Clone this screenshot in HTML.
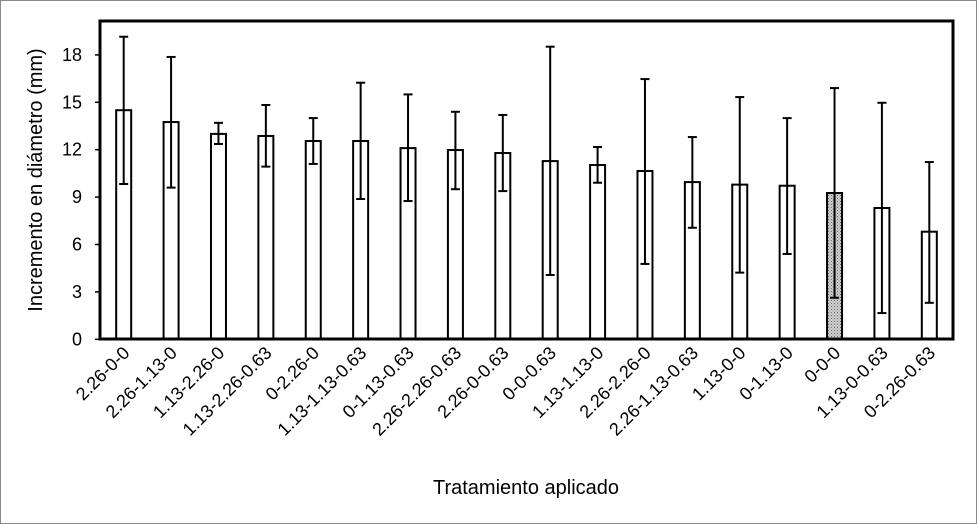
<!DOCTYPE html>
<html><head><meta charset="utf-8"><style>
html,body{margin:0;padding:0;background:#fff}
svg{display:block;font-family:"Liberation Sans",Arial,sans-serif}
</style></head><body>
<svg id="chart" width="977" height="524" viewBox="0 0 977 524">
<defs><pattern id="dots" width="3" height="3" patternUnits="userSpaceOnUse"><rect width="3" height="3" fill="#d0d0d0"/><rect width="1" height="1" fill="#666"/><rect x="1.5" y="1.5" width="1" height="1" fill="#888"/></pattern></defs>
<rect x="0.5" y="0.5" width="976" height="523" fill="#fff" stroke="#888"/>
<g id="bars"></g>
<g id="yaxis"></g>
<g id="xaxis"></g>
<rect x="100" y="21" width="853" height="318" fill="none" stroke="#000" stroke-width="3"/>
<text x="42" y="180" font-size="20" text-anchor="middle" transform="rotate(-90 42 180)">Incremento en diámetro (mm)</text>
<text x="526" y="494" font-size="20" text-anchor="middle">Tratamiento aplicado</text>
</svg>
<script>
const categories=["2.26-0-0","2.26-1.13-0","1.13-2.26-0","1.13-2.26-0.63","0-2.26-0","1.13-1.13-0.63","0-1.13-0.63","2.26-2.26-0.63","2.26-0-0.63","0-0-0.63","1.13-1.13-0","2.26-2.26-0","2.26-1.13-0.63","1.13-0-0","0-1.13-0","0-0-0","1.13-0-0.63","0-2.26-0.63"];
const means=[14.5,13.75,13.0,12.87,12.55,12.55,12.1,11.98,11.79,11.28,11.03,10.65,9.95,9.79,9.72,9.26,8.31,6.81];
const errHigh=[19.15,17.87,13.7,14.83,14.0,16.24,15.5,14.4,14.2,18.52,12.17,16.47,12.8,15.33,14.0,15.9,14.97,11.22];
const errLow=[9.83,9.6,12.36,10.93,11.1,8.88,8.75,9.5,9.38,4.07,9.91,4.77,7.06,4.22,5.4,2.63,1.66,2.31];
const yTicks=[0,3,6,9,12,15,18];
const NS="http://www.w3.org/2000/svg";
const X0=100,X1=953,Y0=339.3,PX=15.8;
const band=(X1-X0)/categories.length;
const xC=i=>X0+(i+0.5)*band;
const y=v=>Y0-v*PX;
function mk(tag,attrs,parent){const e=document.createElementNS(NS,tag);for(const k in attrs)e.setAttribute(k,attrs[k]);parent.appendChild(e);return e;}
const gb=document.getElementById('bars'),gy=document.getElementById('yaxis'),gx=document.getElementById('xaxis');
categories.forEach((c,i)=>{
  const cx=xC(i),w=15;
  const r=mk('rect',{x:cx-w/2,y:y(means[i]),width:w,height:Y0-y(means[i]),fill:c==="0-0-0"?"url(#dots)":"#fff",stroke:"#000","stroke-width":2},gb);
  
  
  const g=mk('g',{stroke:"#000","stroke-width":2},gb);
  
  
  mk('line',{x1:cx,x2:cx,y1:y(errHigh[i]),y2:y(errLow[i])},g);
  mk('line',{x1:cx-4.5,x2:cx+4.5,y1:y(errHigh[i]),y2:y(errHigh[i])},g);
  mk('line',{x1:cx-4.5,x2:cx+4.5,y1:y(errLow[i]),y2:y(errLow[i])},g);
  const t=mk('text',{x:cx+7,y:354,"font-size":18,"text-anchor":"end",transform:`rotate(-45 ${cx+7} 354)`},gx);
  t.textContent=c;
  
  
});
yTicks.forEach(v=>{
  const l=mk('line',{x1:95,x2:100,y1:y(v),y2:y(v),stroke:"#000","stroke-width":1.5},gy);
  
  
  const t=mk('text',{x:82,y:y(v)+6,"font-size":18,"text-anchor":"end"},gy);
  t.textContent=v;
  
  
});
</script>
</body></html>
